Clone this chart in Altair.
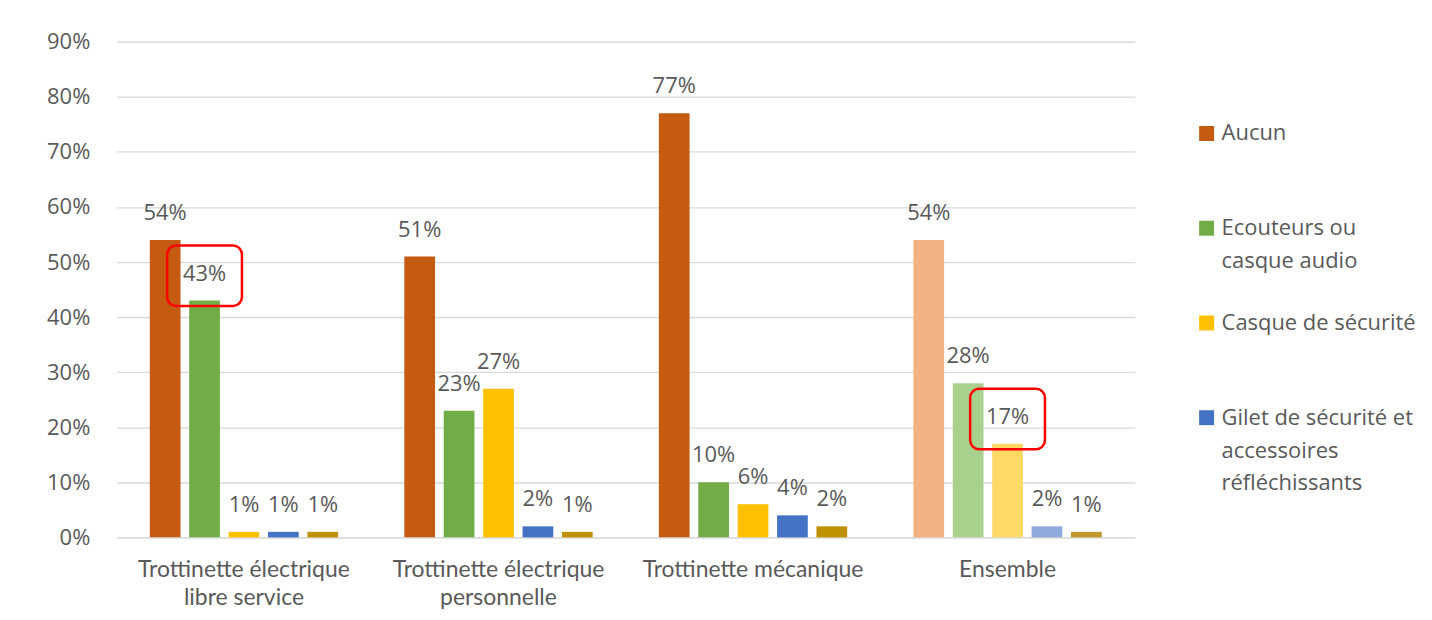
import altair as alt
import pandas as pd

groups = [
    "Trottinette électrique libre service",
    "Trottinette électrique personnelle",
    "Trottinette mécanique",
    "Ensemble",
]
group_lines = [
    ["Trottinette électrique", "libre service"],
    ["Trottinette électrique", "personnelle"],
    ["Trottinette mécanique"],
    ["Ensemble"],
]
series = [
    "Aucun",
    "Ecouteurs ou casque audio",
    "Casque de sécurité",
    "Gilet de sécurité et accessoires réfléchissants",
    "Autre",
]
series_lines = [
    ["Aucun"],
    ["Ecouteurs ou", "casque audio"],
    ["Casque de sécurité"],
    ["Gilet de sécurité et", "accessoires", "réfléchissants"],
    ["Autre"],
]
aucun = [54, 51, 77, 54]
ecouteurs = [43, 23, 10, 28]
casque = [1, 27, 6, 17]
gilet = [1, 2, 4, 2]
autre = [1, 1, 2, 1]

colors = ["#C55A11", "#70AD47", "#FFC000", "#4472C4", "#BF9000"]
colors_light = ["#F4B183", "#A9D18E", "#FFD966", "#8FAADC", "#BF9A2A"]

highlights = [
    ("Trottinette électrique libre service", "Ecouteurs ou casque audio"),
    ("Ensemble", "Casque de sécurité"),
]

vals = [aucun, ecouteurs, casque, gilet, autre]
rows = []
for si, s in enumerate(series):
    for gi, g in enumerate(groups):
        key = s + (" (Ensemble)" if g == "Ensemble" else "")
        rows.append({"group": g, "series": s, "value": vals[si][gi],
                     "label": f"{vals[si][gi]}%", "key": key})
df = pd.DataFrame(rows)

hl_rows = []
for g, s in highlights:
    v = vals[series.index(s)][groups.index(g)]
    hl_rows.append({"group": g, "series": s, "lo": v - 1, "hi": v + 10})
hl = pd.DataFrame(hl_rows)

color_domain = series + [s + " (Ensemble)" for s in series]
color_range = colors + colors_light


def lines_expr(names, lines):
    expr = "datum.label"
    for n, l in zip(reversed(names), reversed(lines)):
        arr = "[" + ",".join("'" + x + "'" for x in l) + "]"
        expr = f"datum.label == '{n}' ? {arr} : ({expr})"
    return expr


GRAY = "#595959"
x_enc = alt.X(
    "group:N",
    scale=alt.Scale(domain=groups, paddingInner=0.26, paddingOuter=0.13),
    axis=alt.Axis(title=None, labelExpr=lines_expr(groups, group_lines), labelFont="Lato",
                  labelFontSize=23, labelColor=GRAY, labelLineHeight=28, labelPadding=21,
                  ticks=False, domainColor="#D9D9D9", domainWidth=1.3, labelAngle=0,
                  labelLimit=400),
)
xo_enc = alt.XOffset("series:N", scale=alt.Scale(domain=series, paddingInner=0.22, paddingOuter=0))
y_scale = alt.Scale(domain=[0, 90])

bars = alt.Chart(df).mark_bar().encode(
    x=x_enc,
    xOffset=xo_enc,
    y=alt.Y("value:Q", scale=y_scale,
            axis=alt.Axis(title=None, values=list(range(0, 91, 10)), labelExpr="datum.value + '%'",
                          labelFont="Open Sans", labelFontSize=22, labelColor=GRAY,
                          labelPadding=27, ticks=False, domain=False, gridColor="#D9D9D9",
                          gridWidth=1.3)),
    color=alt.Color("key:N", scale=alt.Scale(domain=color_domain, range=color_range),
                    legend=alt.Legend(title=None, values=series[:4],
                                      labelExpr=lines_expr(series, series_lines),
                                      orient="none", legendX=1082, legendY=81, padding=0,
                                      symbolType="square", symbolSize=225, symbolStrokeWidth=0,
                                      labelOffset=4, gridAlign="all",
                                      labelFont="Open Sans", labelFontSize=22, labelColor=GRAY,
                                      labelLimit=320, rowPadding=7)),
)

texts = alt.Chart(df).mark_text(dy=-20, baseline="alphabetic", font="Open Sans",
                                fontSize=22, color=GRAY).encode(
    x=x_enc, xOffset=xo_enc, y=alt.Y("value:Q", scale=y_scale), text="label:N"
)

boxes = alt.Chart(hl).mark_bar(filled=False, stroke="#FF0000", strokeWidth=2.5,
                               cornerRadius=9, width=75).encode(
    x=x_enc, xOffset=xo_enc, y=alt.Y("lo:Q", scale=y_scale), y2="hi:Q"
)

chart = alt.layer(bars, texts, boxes).properties(
    width=1021, height=497,
    autosize=alt.AutoSizeParams(type="none"),
    padding={"left": 109, "top": 33, "right": 290, "bottom": 74},
).configure(
    background="white", style={"guide-label": {"lineHeight": 33}}
).configure_view(stroke=None)

chart.save("out.html", embed_options={"renderer": "svg", "actions": False})
